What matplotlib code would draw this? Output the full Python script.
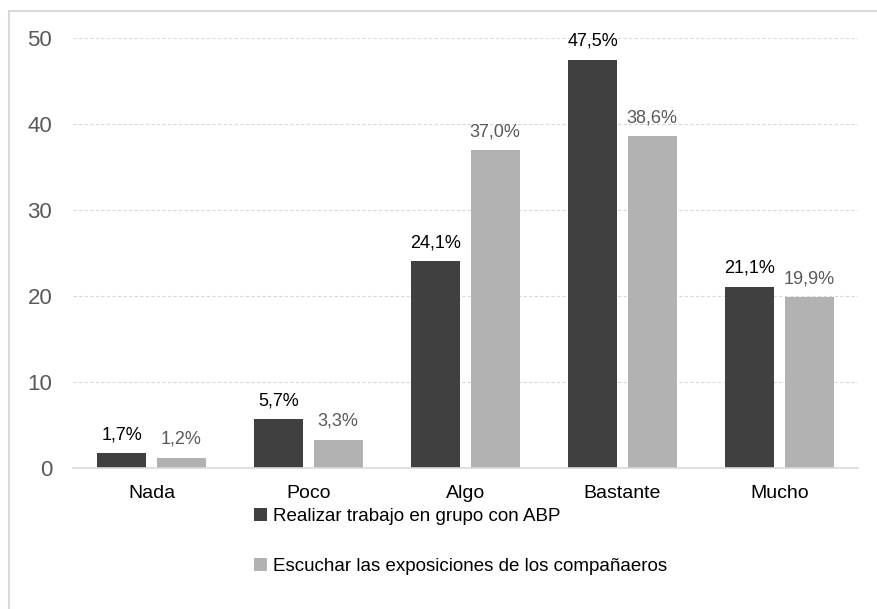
import matplotlib
matplotlib.use("Agg")
import matplotlib.pyplot as plt
from matplotlib.patches import Rectangle
import numpy as np

plt.rcParams['font.family'] = ['Liberation Sans Narrow', 'Liberation Sans', 'DejaVu Sans']

categorias = ["Nada", "Poco", "Algo", "Bastante", "Mucho"]
abp = [1.7, 5.7, 24.1, 47.5, 21.1]
exposiciones = [1.2, 3.3, 37.0, 38.6, 19.9]
series = ["Realizar trabajo en grupo con ABP",
          "Escuchar las exposiciones de los compañaeros"]
yticks = [0, 10, 20, 30, 40, 50]

W, H = 878, 609
fig = plt.figure(figsize=(W / 100, H / 100), dpi=100)
ax = fig.add_axes([73 / W, 1 - 468 / H, 785 / W, 430 / H])

x = np.arange(len(categorias))
bw = 0.312
off = 0.188
b1 = ax.bar(x - off, abp, bw, color='#404040', label=series[0], zorder=3)
b2 = ax.bar(x + off, exposiciones, bw, color='#b2b2b2', label=series[1], zorder=3)

for r, v in zip(b1, abp):
    ax.annotate(f"{v:.1f}%".replace('.', ','), (r.get_x() + r.get_width() / 2, v),
                xytext=(0, 7), textcoords='offset points', ha='center', va='bottom',
                fontsize=13, color='black')
for r, v in zip(b2, exposiciones):
    ax.annotate(f"{v:.1f}%".replace('.', ','), (r.get_x() + r.get_width() / 2, v),
                xytext=(0, 7), textcoords='offset points', ha='center', va='bottom',
                fontsize=13, color='#595959')

ax.set_xlim(-0.5, len(categorias) - 0.5)
ax.set_ylim(0, 50)
ax.set_yticks(yticks)
ax.set_xticks(x)
ax.set_xticklabels(categorias)
ax.tick_params(axis='y', length=0, pad=15, labelsize=16, labelcolor='#595959')
ax.tick_params(axis='x', length=0, pad=12, labelsize=14, labelcolor='black')
ax.grid(axis='y', color='#d9d9d9', linestyle=(0, (3, 2)), linewidth=0.8, zorder=0)
for s in ['top', 'right', 'left']:
    ax.spines[s].set_visible(False)
ax.spines['bottom'].set_color('#d9d9d9')
ax.spines['bottom'].set_linewidth(1.2)
ax.spines['bottom'].set_zorder(4)

ax.legend(loc='upper left', bbox_to_anchor=(254 / W, 1 - 508 / H), bbox_transform=fig.transFigure,
          frameon=False, fontsize=13.5, handlelength=0.7, handleheight=0.7, handletextpad=0.3,
          labelspacing=1.75, borderaxespad=0, borderpad=0)

fig.patches.append(Rectangle((9 / W, -0.05), 1.1, 1 - 11 / H + 0.05, transform=fig.transFigure,
                             fill=False, edgecolor='#d9d9d9', linewidth=1.5))

fig.savefig("out.png", dpi=100)
